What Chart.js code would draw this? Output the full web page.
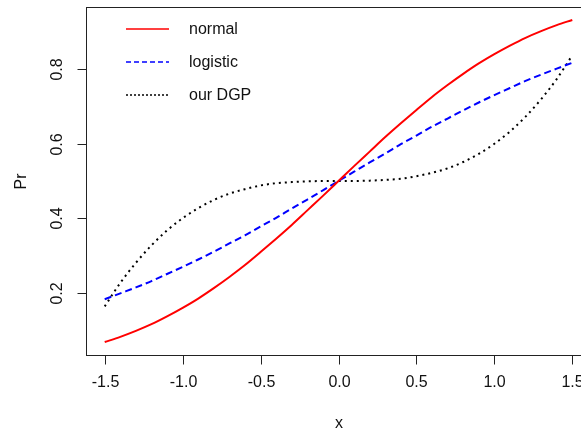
<!DOCTYPE html>
<html>
<head>
<meta charset="utf-8">
<script src="https://cdn.jsdelivr.net/npm/chart.js@4/dist/chart.umd.min.js"></script>
<style>
  html, body { margin: 0; padding: 0; background: #fff; overflow: hidden; }
  #wrap { position: relative; width: 600px; height: 430px; }
</style>
</head>
<body>
<div id="wrap"><canvas id="pr"></canvas></div>
<script>
// values
var xs = [-1.5, -1.4, -1.3, -1.2, -1.1, -1.0, -0.9, -0.8, -0.7, -0.6, -0.5, -0.4, -0.3, -0.2, -0.1, 0.0,
          0.1, 0.2, 0.3, 0.4, 0.5, 0.6, 0.7, 0.8, 0.9, 1.0, 1.1, 1.2, 1.3, 1.4, 1.5];
var normalPr = [0.067, 0.081, 0.097, 0.115, 0.136, 0.159, 0.184, 0.212, 0.242, 0.274, 0.309, 0.345, 0.382, 0.421, 0.460, 0.500,
                0.540, 0.579, 0.618, 0.655, 0.691, 0.726, 0.758, 0.788, 0.816, 0.841, 0.864, 0.885, 0.903, 0.919, 0.933];
var logisticPr = [0.182, 0.198, 0.214, 0.231, 0.250, 0.269, 0.289, 0.310, 0.332, 0.354, 0.378, 0.401, 0.426, 0.450, 0.475, 0.500,
                  0.525, 0.550, 0.574, 0.599, 0.622, 0.646, 0.668, 0.690, 0.711, 0.731, 0.750, 0.769, 0.786, 0.802, 0.818];
var dgpPr = [0.163, 0.226, 0.280, 0.327, 0.367, 0.400, 0.427, 0.449, 0.466, 0.478, 0.488, 0.494, 0.497, 0.499, 0.500, 0.500,
             0.500, 0.501, 0.503, 0.506, 0.513, 0.522, 0.534, 0.551, 0.573, 0.600, 0.633, 0.673, 0.720, 0.774, 0.838];
var xTicks = [-1.5, -1.0, -0.5, 0.0, 0.5, 1.0, 1.5];
var yTicks = [0.2, 0.4, 0.6, 0.8];
var seriesNames = ["normal", "logistic", "our DGP"];

var FONT = '16px "Liberation Sans", Arial, sans-serif';
var INK = "#111";

function pts(ys) {
    return xs.map(function (x, i) { return { x: x, y: ys[i] }; });
}

// R-like frame, axes and legend drawn on top using the chart's scales
var rAxes = {
    id: 'rAxes',
    afterDraw: function (chart) {
        var ctx = chart.ctx, a = chart.chartArea;
        var sx = chart.scales.x, sy = chart.scales.y;
        var L = Math.round(a.left) + 0.5, T = Math.round(a.top) + 0.5;
        var R = Math.round(a.right) + 0.5, B = Math.round(a.bottom) + 0.5;
        ctx.save();
        ctx.strokeStyle = "#222";
        ctx.lineWidth = 1;
        ctx.setLineDash([]);
        ctx.strokeRect(L, T, R - L, B - T);

        ctx.font = FONT;
        ctx.fillStyle = INK;
        // x axis
        ctx.textAlign = "center";
        ctx.textBaseline = "middle";
        xTicks.forEach(function (v) {
            var px = Math.round(sx.getPixelForValue(v)) + 0.5;
            ctx.beginPath();
            ctx.moveTo(px, B);
            ctx.lineTo(px, B + 9);
            ctx.stroke();
            ctx.fillText(v.toFixed(1), px, 383);
        });
        // y axis, labels turned like R's las=0
        yTicks.forEach(function (v) {
            var py = Math.round(sy.getPixelForValue(v)) + 0.5;
            ctx.beginPath();
            ctx.moveTo(L, py);
            ctx.lineTo(L - 9, py);
            ctx.stroke();
            ctx.save();
            ctx.translate(58, py);
            ctx.rotate(-Math.PI / 2);
            ctx.fillText(v.toFixed(1), 0, 0);
            ctx.restore();
        });
        // axis titles
        ctx.textBaseline = "alphabetic";
        ctx.fillText("x", (L + R) / 2, 428);
        ctx.save();
        ctx.translate(26, (T + B) / 2);
        ctx.rotate(-Math.PI / 2);
        ctx.fillText("Pr", 0, 0);
        ctx.restore();

        // legend (no box)
        var rows = [29, 62, 95];
        var dashes = [[], [5, 3], [2, 2]];
        var widths = [1.5, 1.5, 1.5];
        ctx.textAlign = "left";
        ctx.textBaseline = "middle";
        chart.data.datasets.forEach(function (ds, i) {
            ctx.strokeStyle = ds.borderColor;
            ctx.lineWidth = widths[i];
            ctx.setLineDash(dashes[i]);
            ctx.beginPath();
            ctx.moveTo(126, rows[i]);
            ctx.lineTo(169, rows[i]);
            ctx.stroke();
            ctx.fillStyle = INK;
            ctx.fillText(seriesNames[i], 189, rows[i] + 1);
        });
        ctx.restore();
    }
};

var line = function (label, ys, color, dash) {
    return {
        label: label,
        data: pts(ys),
        borderColor: color,
        borderWidth: 2,
        borderDash: dash,
        pointRadius: 0,
        fill: false,
        cubicInterpolationMode: 'monotone'
    };
};

new Chart(document.getElementById('pr'), {
    type: 'line',
    data: {
        datasets: [
            line(seriesNames[0], normalPr, "#ff0000", []),
            line(seriesNames[1], logisticPr, "#0000ff", [7, 4]),
            line(seriesNames[2], dgpPr, "#000000", [2, 4])
        ]
    },
    options: {
        responsive: true,
        maintainAspectRatio: false,
        animation: false,
        layout: { padding: { left: 86, top: 7, right: 9, bottom: 75 } },
        scales: {
            x: { type: 'linear', min: -1.62, max: 1.62, display: false },
            y: { type: 'linear', min: 0.0322, max: 0.9678, display: false }
        },
        plugins: { legend: { display: false }, tooltip: { enabled: false } }
    },
    plugins: [rAxes]
});
</script>
</body>
</html>
